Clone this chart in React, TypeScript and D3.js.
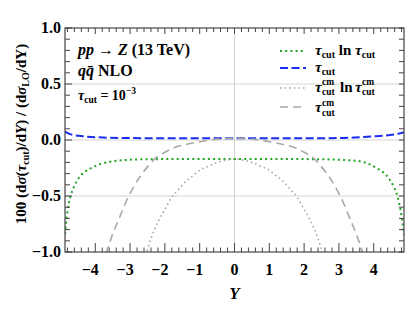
import * as d3 from 'd3';

// rapidity samples and values
const greenY = [-4.87, -4.84, -4.8, -4.76, -4.7, -4.6, -4.45, -4.3, -4.15, -3.9, -3.6, -3.2, -2.6, -1.5, 0, 1.5, 2.5, 3.2, 3.6, 3.9, 4.18, 4.35, 4.47, 4.58, 4.66, 4.72, 4.78, 4.82, 4.87];
const greenV = [-0.84, -0.74, -0.64, -0.56, -0.49, -0.41, -0.33, -0.285, -0.255, -0.22, -0.195, -0.18, -0.172, -0.17, -0.17, -0.17, -0.172, -0.18, -0.19, -0.22, -0.27, -0.31, -0.36, -0.42, -0.48, -0.55, -0.64, -0.72, -0.85];

const blueY = [-4.87, -4.7, -4.4, -4.0, -3.0, 0, 3.0, 3.6, 4.0, 4.4, 4.7, 4.87];
const blueV = [0.075, 0.05, 0.035, 0.025, 0.017, 0.015, 0.017, 0.025, 0.032, 0.042, 0.055, 0.07];

const cmY = [-3.7, -3.5, -3.3, -3.1, -2.9, -2.7, -2.5, -2.3, -2.0, -1.7, -1.4, -1.0, -0.5, 0, 0.5, 1.0, 1.4, 1.7, 2.0, 2.3, 2.5, 2.7, 2.9, 3.1, 3.3, 3.5, 3.7];
const cmV = [-1.02, -0.84, -0.69, -0.54, -0.42, -0.32, -0.24, -0.17, -0.11, -0.065, -0.04, -0.015, 0.008, 0.015, 0.008, -0.015, -0.04, -0.065, -0.11, -0.17, -0.24, -0.32, -0.42, -0.54, -0.69, -0.84, -1.02];

const cmLnY = [-2.55, -2.4, -2.2, -2.0, -1.8, -1.6, -1.4, -1.2, -1.0, -0.75, -0.5, -0.25, 0, 0.25, 0.5, 0.75, 1.0, 1.2, 1.4, 1.6, 1.8, 2.0, 2.2, 2.4, 2.55];
const cmLnV = [-1.03, -0.88, -0.73, -0.62, -0.51, -0.44, -0.37, -0.32, -0.27, -0.235, -0.2, -0.18, -0.172, -0.18, -0.2, -0.235, -0.27, -0.32, -0.37, -0.44, -0.51, -0.62, -0.73, -0.88, -1.03];

const xTicks = [-4, -3, -2, -1, 0, 1, 2, 3, 4];
const yTicks = [-1, -0.5, 0, 0.5, 1];

const W = 407;
const H = 309;
const MARGIN = { top: 28, right: 3, bottom: 57, left: 65 };
const FONT = '"Liberation Serif", "Times New Roman", serif';

type Pt = { x: number; y: number };
const zipPts = (xs: number[], ys: number[]): Pt[] => xs.map((x, i) => ({ x, y: ys[i] }));

export default function App() {
  const boundsWidth = W - MARGIN.left - MARGIN.right;
  const boundsHeight = H - MARGIN.top - MARGIN.bottom;

  const xScale = d3.scaleLinear().domain([-4.87, 4.87]).range([0, boundsWidth]);
  const yScale = d3.scaleLinear().domain([-1, 1]).range([boundsHeight, 0]);

  const line = d3
    .line<Pt>()
    .x((d) => xScale(d.x))
    .y((d) => yScale(d.y))
    .curve(d3.curveMonotoneX);

  const series = [
    { pts: zipPts(greenY, greenV), color: '#1fa51f', width: 2, dash: '2 3.2' },
    { pts: zipPts(blueY, blueV), color: '#1a2cf0', width: 2, dash: '8 3.5' },
    { pts: zipPts(cmLnY, cmLnV), color: '#a8a8a8', width: 1.6, dash: '1.6 3' },
    { pts: zipPts(cmY, cmV), color: '#a8a8a8', width: 1.6, dash: '8 5' },
  ];

  const xMinor = d3.range(-4.8, 4.81, 0.2).map((v) => Math.round(v * 10) / 10);
  const yMinor = d3.range(-1, 1.001, 0.1).map((v) => Math.round(v * 10) / 10);
  const fmtY = (v: number) => (v < 0 ? '\u2212' : '') + Math.abs(v).toFixed(1);
  const fmtX = (v: number) => (v < 0 ? '\u2212' : '') + Math.abs(v);

  const legendX = 280;
  const legendTextX = 315;
  const legendRows = [51, 68, 88, 107];

  return (
    <svg width={W} height={H} style={{ position: 'absolute', left: 0, top: 0 }} fontFamily={FONT}>
      <rect width={W} height={H} fill="white" />
      <defs>
        <clipPath id="plot-clip">
          <rect width={boundsWidth} height={boundsHeight} />
        </clipPath>
      </defs>
      <g transform={`translate(${MARGIN.left},${MARGIN.top})`}>
        {/* grid */}
        {[-0.5, 0, 0.5].map((v) => (
          <line key={'g' + v} x1={0} x2={boundsWidth} y1={yScale(v)} y2={yScale(v)} stroke="#d4d4d4" strokeWidth={1} />
        ))}
        <line x1={xScale(0)} x2={xScale(0)} y1={0} y2={boundsHeight} stroke="#d4d4d4" strokeWidth={1} />

        {/* curves */}
        <g clipPath="url(#plot-clip)">
          {series.map((s, i) => (
            <path key={i} d={line(s.pts) ?? ''} fill="none" stroke={s.color} strokeWidth={s.width} strokeDasharray={s.dash} />
          ))}
        </g>

        {/* ticks */}
        {xMinor.map((v) => {
          const major = Number.isInteger(v);
          return (
            <g key={'xt' + v} stroke="#444" strokeWidth={1}>
              <line x1={xScale(v)} x2={xScale(v)} y1={boundsHeight} y2={boundsHeight - (major ? 9 : 4.5)} />
              <line x1={xScale(v)} x2={xScale(v)} y1={0} y2={major ? 6 : 4} />
            </g>
          );
        })}
        {yMinor.map((v) => {
          const major = Math.abs(v * 2 - Math.round(v * 2)) < 1e-6;
          return (
            <g key={'yt' + v} stroke="#444" strokeWidth={1}>
              <line x1={0} x2={major ? 7 : 5} y1={yScale(v)} y2={yScale(v)} />
              <line x1={boundsWidth} x2={boundsWidth - 5} y1={yScale(v)} y2={yScale(v)} />
            </g>
          );
        })}

        {/* frame */}
        <rect width={boundsWidth} height={boundsHeight} fill="none" stroke="#444" strokeWidth={1.2} />

        {/* tick labels */}
        {xTicks.map((v) => (
          <text key={'xl' + v} x={xScale(v) - (v < 0 ? 5 : 0)} y={boundsHeight + 23} textAnchor="middle" fontSize={16} fontWeight="bold">
            {fmtX(v)}
          </text>
        ))}
        {yTicks.map((v) => (
          <text key={'yl' + v} x={-4} y={yScale(v) + 5} textAnchor="end" fontSize={16} fontWeight="bold">
            {fmtY(v)}
          </text>
        ))}
      </g>

      {/* axis titles */}
      <text x={MARGIN.left + xScale(0)} y={299} textAnchor="middle" fontSize={17} fontWeight="bold" fontStyle="italic">
        Y
      </text>
      <text transform="translate(26,134) rotate(-90)" textAnchor="middle" fontSize={15} fontWeight="bold">
        100 (d<tspan fontStyle="italic">σ</tspan>(<tspan fontStyle="italic">τ</tspan>
        <tspan fontSize={10} dy={3}>cut</tspan>
        <tspan dy={-3}>)/d</tspan><tspan fontStyle="italic">Y</tspan>) / (d<tspan fontStyle="italic">σ</tspan>
        <tspan fontSize={10} dy={3}>LO</tspan>
        <tspan dy={-3}>/dY)</tspan>
      </text>

      {/* annotations */}
      <text x={78} y={55} fontSize={16} fontWeight="bold">
        <tspan fontStyle="italic">pp</tspan> → <tspan fontStyle="italic">Z</tspan> (13 TeV)
      </text>
      <text x={78} y={76} fontSize={16} fontWeight="bold">
        <tspan fontStyle="italic">q{'q\u0304'}</tspan> NLO
      </text>
      <text x={78} y={100} fontSize={14} fontWeight="bold">
        <tspan fontStyle="italic">τ</tspan>
        <tspan fontSize={9.5} dy={3}>cut</tspan>
        <tspan dy={-3}> = 10</tspan>
        <tspan fontSize={9.5} dy={-6}>−3</tspan>
      </text>

      {/* legend */}
      {series.map((s, i) => (
        <line key={'lg' + i} x1={legendX} x2={legendX + 26} y1={legendRows[i]} y2={legendRows[i]} stroke={s.color} strokeWidth={s.width} strokeDasharray={s.dash} />
      ))}
      <g fontSize={15} fontWeight="bold">
        <text x={legendTextX} y={legendRows[0] + 4}>
          <tspan fontStyle="italic">τ</tspan>
          <tspan fontSize={10} dy={3}>cut</tspan>
          <tspan dy={-3}> ln </tspan>
          <tspan fontStyle="italic">τ</tspan>
          <tspan fontSize={10} dy={3}>cut</tspan>
        </text>
        <text x={legendTextX} y={legendRows[1] + 4}>
          <tspan fontStyle="italic">τ</tspan>
          <tspan fontSize={10} dy={3}>cut</tspan>
        </text>
        <text x={legendTextX} y={legendRows[2] + 4} fontStyle="italic">τ</text>
        <text x={legendTextX + 7} y={legendRows[2] - 3} fontSize={9.5}>cm</text>
        <text x={legendTextX + 7} y={legendRows[2] + 7} fontSize={9.5}>cut</text>
        <text x={legendTextX + 25} y={legendRows[2] + 4}>ln</text>
        <text x={legendTextX + 40} y={legendRows[2] + 4} fontStyle="italic">τ</text>
        <text x={legendTextX + 47} y={legendRows[2] - 3} fontSize={9.5}>cm</text>
        <text x={legendTextX + 47} y={legendRows[2] + 7} fontSize={9.5}>cut</text>
        <text x={legendTextX} y={legendRows[3] + 5} fontStyle="italic">τ</text>
        <text x={legendTextX + 7} y={legendRows[3] - 1} fontSize={9.5}>cm</text>
        <text x={legendTextX + 7} y={legendRows[3] + 9} fontSize={9.5}>cut</text>
      </g>
    </svg>
  );
}
